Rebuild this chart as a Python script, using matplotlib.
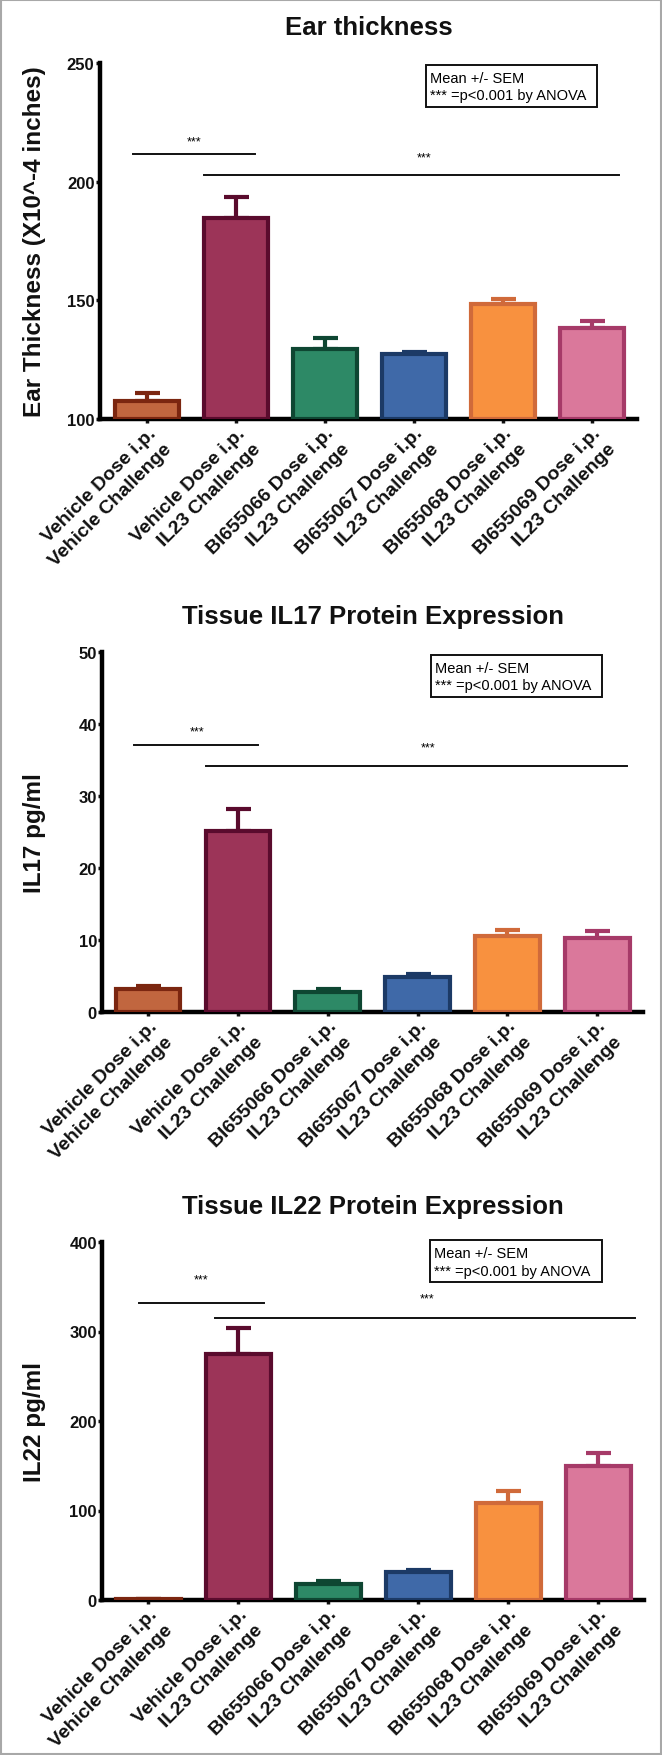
import numpy as np
import matplotlib
matplotlib.use("Agg")
import matplotlib.pyplot as plt
from matplotlib.patches import Rectangle
import matplotlib.transforms as mtransforms

plt.rcParams['font.family'] = ['Liberation Sans', 'DejaVu Sans']

groups = ["Vehicle Dose i.p.\nVehicle Challenge",
          "Vehicle Dose i.p.\nIL23 Challenge",
          "BI655066 Dose i.p.\nIL23 Challenge",
          "BI655067 Dose i.p.\nIL23 Challenge",
          "BI655068 Dose i.p.\nIL23 Challenge",
          "BI655069 Dose i.p.\nIL23 Challenge"]

fills = ["#c1663f", "#9c3458", "#2d8966", "#3f69a8", "#f8913f", "#da789b"]
edges = ["#7b2610", "#5a0b2d", "#0e4632", "#1c3a66", "#d06a3a", "#a63a68"]

# panel 1 - ear thickness
ear_mean = [107.7, 184.5, 129.6, 127.2, 148.3, 138.5]
ear_sem = [3.3, 9.2, 4.6, 1.0, 2.1, 3.0]
# panel 2 - IL17
il17_mean = [3.15, 25.1, 2.8, 4.8, 10.5, 10.3]
il17_sem = [0.45, 3.1, 0.4, 0.5, 0.9, 0.95]
# panel 3 - IL22
il22_mean = [1.0, 274.7, 17.8, 31.1, 108.7, 150.2]
il22_sem = [0.5, 29.0, 2.9, 2.9, 12.9, 13.8]

panels = [
    dict(title="Ear thickness", ylabel="Ear Thickness (X10^-4 inches)",
         mean=ear_mean, sem=ear_sem, ylim=(100, 250), yticks=[100, 150, 200, 250],
         rect=[100, 64, 537, 356], xlim=(-0.53, 5.51),
         sig1=(-0.16, 1.21, 211.7), star1=(0.53, 216.8),
         sig2=(0.64, 5.31, 202.8), star2=(3.11, 210.4),
         box=(0.607, 0.876, 0.318, 0.118)),
    dict(title="Tissue IL17 Protein Expression", ylabel="IL17 pg/ml",
         mean=il17_mean, sem=il17_sem, ylim=(0, 50), yticks=[0, 10, 20, 30, 40, 50],
         rect=[102.5, 653, 540.5, 360], xlim=(-0.507, 5.51),
         sig1=(-0.16, 1.22, 37.1), star1=(0.54, 38.9),
         sig2=(0.65, 5.33, 34.2), star2=(3.12, 36.7),
         box=(0.607, 0.875, 0.318, 0.117)),
    dict(title="Tissue IL22 Protein Expression", ylabel="IL22 pg/ml",
         mean=il22_mean, sem=il22_sem, ylim=(0, 400), yticks=[0, 100, 200, 300, 400],
         rect=[102.5, 1243, 541.5, 358], xlim=(-0.507, 5.51),
         sig1=(-0.10, 1.29, 331.8), star1=(0.59, 358),
         sig2=(0.74, 5.41, 315.6), star2=(3.10, 337),
         box=(0.605, 0.887, 0.318, 0.118)),
]

W, H = 662, 1756
fig = plt.figure(figsize=(W / 100, H / 100), dpi=100)
fig.patches.append(Rectangle((0.001, 0.0005), 0.997, 0.999, transform=fig.transFigure,
                             fill=False, edgecolor="#a8a8a8", linewidth=1.5))

x = np.arange(len(groups))
for p in panels:
    l, t, w, h = p["rect"]
    ax = fig.add_axes([l / W, 1 - (t + h) / H, w / W, h / H])
    lo = p["ylim"][0]
    heights = [m - lo for m in p["mean"]]
    ax.bar(x, heights, bottom=lo, width=0.72, color=fills, edgecolor=edges,
           linewidth=3.0, zorder=3)
    for i in range(len(x)):
        ax.errorbar(x[i], p["mean"][i], yerr=[[0], [p["sem"][i]]], fmt="none",
                    ecolor=edges[i], elinewidth=3.0, capsize=9, capthick=3.0, zorder=2)
    ax.set_xlim(p["xlim"])
    ax.set_ylim(p["ylim"])
    ax.set_yticks(p["yticks"])
    ax.set_yticklabels([str(v) for v in p["yticks"]], fontsize=12, fontweight="bold")
    ax.set_xticks(x)
    ax.set_xticklabels(groups, rotation=45, ha="right", va="top",
                       rotation_mode="anchor", fontsize=14, fontweight="bold",
                       color="#262626", multialignment="right", linespacing=1.4)
    off = mtransforms.ScaledTranslation(2 / 100, -9 / 100, fig.dpi_scale_trans)
    for lab in ax.get_xticklabels():
        lab.set_transform(lab.get_transform() + off)
    for s in ["top", "right"]:
        ax.spines[s].set_visible(False)
    for s in ["left", "bottom"]:
        ax.spines[s].set_linewidth(3.2)
    ax.tick_params(axis="both", width=2.5, length=3, pad=1, colors="#111111")

    ax.text(0.5, 1 + 36 / h, p["title"], transform=ax.transAxes, ha="center",
            va="center", fontsize=18.5, fontweight="bold", color="#111111")
    ax.text((35 - l) / w, 0.5, p["ylabel"], transform=ax.transAxes, rotation=90,
            ha="center", va="center", fontsize=17.5, fontweight="bold", color="#111111")

    x0, x1, yv = p["sig1"]
    ax.plot([x0, x1], [yv, yv], color="#111111", linewidth=1.4, clip_on=False)
    ax.text(p["star1"][0], p["star1"][1], "***", ha="center", va="center", fontsize=9)
    x0, x1, yv = p["sig2"]
    ax.plot([x0, x1], [yv, yv], color="#111111", linewidth=1.4, clip_on=False)
    ax.text(p["star2"][0], p["star2"][1], "***", ha="center", va="center", fontsize=9)

    bx, by, bw, bh = p["box"]
    ax.add_patch(Rectangle((bx, by), bw, bh, transform=ax.transAxes, fill=False,
                           edgecolor="#111111", linewidth=1.4, clip_on=False))
    ax.text(bx + 0.008, by + bh * 0.70, "Mean +/- SEM", transform=ax.transAxes,
            ha="left", va="center", fontsize=10.5)
    ax.text(bx + 0.008, by + bh * 0.28, "*** =p<0.001 by ANOVA", transform=ax.transAxes,
            ha="left", va="center", fontsize=10.5)

fig.savefig("out.png", dpi=100)
